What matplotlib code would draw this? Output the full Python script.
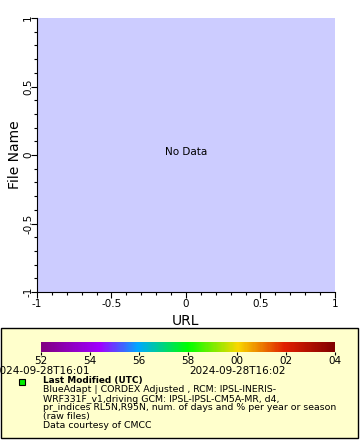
import matplotlib
matplotlib.use("Agg")
import matplotlib.pyplot as plt
import numpy as np
from matplotlib.colors import LinearSegmentedColormap, Normalize
from matplotlib.patches import Rectangle
import matplotlib.cm as cm

# data
x_lim = [-1, 1]
y_lim = [-1, 1]
major_ticks = [-1, -0.5, 0, 0.5, 1]
major_labels = ["-1", "-0.5", "0", "0.5", "1"]
cbar_ticks = [52, 54, 56, 58, 60, 62, 64]
cbar_labels = ["52", "54", "56", "58", "00", "02", "04"]
time_labels = ["2024-09-28T16:01", "2024-09-28T16:02"]
time_label_pos = [52, 60]
legend_title = "Last Modified (UTC)"
legend_lines = [
    "BlueAdapt | CORDEX Adjusted , RCM: IPSL-INERIS-",
    "WRF331F_v1,driving GCM: IPSL-IPSL-CM5A-MR, d4,",
    "pr_indices RL5N,R95N, num. of days and % per year or season",
    "(raw files)",
    "Data courtesy of CMCC",
]

cmap = LinearSegmentedColormap.from_list("lm", [
    (0.0, "#800080"), (0.2, "#a000ff"), (0.33, "#00a8ff"), (0.5, "#00ff00"),
    (0.67, "#f8d800"), (0.83, "#e02000"), (1.0, "#800000")])

fig = plt.figure(figsize=(3.6, 4.4), dpi=100, facecolor="white")
W, H = 360, 440

ax = fig.add_axes([37 / W, 1 - 292 / H, 298 / W, 274 / H])
ax.set_facecolor("#ccccff")
ax.set_xlim(x_lim)
ax.set_ylim(y_lim)
ax.set_xticks(major_ticks)
ax.set_xticklabels(major_labels)
ax.set_yticks(major_ticks)
ax.set_yticklabels(major_labels, rotation=90, va="center")
ax.set_xticks(np.arange(-1, 1.01, 0.1), minor=True)
ax.set_yticks(np.arange(-1, 1.01, 0.1), minor=True)
ax.tick_params(which="major", length=4.3, width=0.8, labelsize=7.5, pad=1)
ax.tick_params(axis="y", which="major", pad=-1.5)
ax.tick_params(which="minor", length=2.2, width=0.8)
ax.spines["top"].set_visible(False)
ax.spines["right"].set_visible(False)
ax.set_xlabel("URL", fontsize=10, labelpad=3)
ax.set_ylabel("File Name", fontsize=10, labelpad=1)
ax.text(0, 0.02, "No Data", ha="center", va="center", fontsize=7.5)

# legend box
lg = fig.add_axes([0, 0, 1, 1], zorder=-1)
lg.set_xlim(0, W)
lg.set_ylim(H, 0)
lg.axis("off")
lg.add_patch(Rectangle((0.5, 328), 357.5, 110, facecolor="#ffffcc",
                       edgecolor="black", linewidth=1))
lg.add_patch(Rectangle((19, 379), 6, 6, facecolor="#00ee00",
                       edgecolor="black", linewidth=0.8))
lg.text(43, 381, legend_title, fontsize=6.4, fontweight="bold", va="center")
for i, line in enumerate(legend_lines):
    lg.text(43, 390 + i * 9, line, fontsize=6.75, va="center", linespacing=1)

cax = fig.add_axes([41 / W, 1 - 352 / H, 294 / W, 10 / H])
norm = Normalize(vmin=52, vmax=64)
cb = fig.colorbar(cm.ScalarMappable(norm=norm, cmap=cmap), cax=cax,
                  orientation="horizontal")
cb.outline.set_visible(False)
cb.set_ticks(cbar_ticks)
cb.set_ticklabels(cbar_labels)
cax.tick_params(length=2.2, width=0.8, labelsize=7.5, pad=1)
for t, p in zip(time_labels, time_label_pos):
    cax.text(p, -1.9, t, transform=cax.get_xaxis_transform(), ha="center",
             va="center", fontsize=7.5)

fig.savefig("out.png", dpi=100)
